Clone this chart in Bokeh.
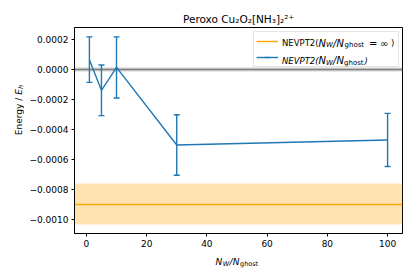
import math
from bokeh.plotting import figure
from bokeh.layouts import row, column
from bokeh.models import (ColumnDataSource, Range1d, FixedTicker, Whisker, TeeHead,
                          Legend, LegendItem, Label)
from bokeh.embed import file_html
from bokeh.resources import INLINE

# ---------------- data ----------------
nw_ratio = [1, 5, 10, 30, 100]
energy = [0.000065, -0.000140, 0.000013, -0.000505, -0.000471]
energy_err = [0.000152, 0.000169, 0.000204, 0.000202, 0.000177]
ref_energy = [-0.000899]        # NEVPT2(N_W/N_ghost = inf)
ref_err = [0.000134]
zero_energy = [0.0]
zero_err = [0.0000155]
x_ticks = [0, 20, 40, 60, 80, 100]
y_ticks = [-0.0010, -0.0008, -0.0006, -0.0004, -0.0002, 0.0, 0.0002]
y_tick_labels = ["\u22120.0010", "\u22120.0008", "\u22120.0006", "\u22120.0004",
                 "\u22120.0002", "0.0000", "0.0002"]
title_text = "Peroxo Cu\u2082O\u2082[NH\u2083]\u2082\u00b2\u207a"

FONT = "DejaVu Sans"
BLUE = "#1f77b4"
ORANGE = "#ffa500"

# ---------------- ranges (matplotlib-like 5% margins) ----------------
xmin, xmax = min(nw_ratio), max(nw_ratio)
xpad = 0.05 * (xmax - xmin)
lows = [e - s for e, s in zip(energy, energy_err)] + [ref_energy[0] - ref_err[0]]
highs = [e + s for e, s in zip(energy, energy_err)] + [ref_energy[0] + ref_err[0]]
ylo, yhi = min(lows), max(highs)
ypad = 0.05 * (yhi - ylo)

MAIN_W, MAIN_H = 50 + 328 + 8, 27 + 206 + 22
YL_W, XL_H = 24, 18
TOTAL_W = YL_W + MAIN_W

p = figure(width=MAIN_W, height=MAIN_H,
           x_range=Range1d(xmin - xpad, xmax + xpad),
           y_range=Range1d(ylo - ypad, yhi + ypad),
           output_backend="svg", toolbar_location=None,
           min_border_left=50, min_border_right=8,
           min_border_top=27, min_border_bottom=22,
           title=title_text)
p.extra_y_ranges = {"proxy": Range1d(start=1, end=2)}

p.title.text_font = FONT
p.title.text_font_size = "10.5px"
p.title.text_font_style = "normal"
p.title.text_color = "black"
p.title.align = "center"
p.title.standoff = 6

p.grid.visible = False
p.outline_line_color = "black"
p.outline_line_width = 1
p.outline_line_alpha = 1
p.background_fill_color = "white"
p.border_fill_color = "white"

for ax in p.axis:
    ax.axis_line_color = "black"
    ax.major_tick_out = 3
    ax.major_tick_in = 0
    ax.minor_tick_out = 0
    ax.minor_tick_in = 0
    ax.major_tick_line_color = "black"
    ax.major_label_text_font = FONT
    ax.major_label_text_font_size = "9px"
    ax.major_label_text_color = "black"
    ax.major_label_standoff = 3
    ax.axis_label = None

p.xaxis.ticker = FixedTicker(ticks=x_ticks)
p.yaxis.ticker = FixedTicker(ticks=y_ticks)
p.yaxis.major_label_overrides = dict(zip(y_ticks, y_tick_labels))

# ---------------- reference band / lines ----------------
ref_src = ColumnDataSource(dict(y=ref_energy,
                                y0=[r - e for r, e in zip(ref_energy, ref_err)],
                                y1=[r + e for r, e in zip(ref_energy, ref_err)]))
p.hstrip(y0="y0", y1="y1", source=ref_src, fill_color=ORANGE, fill_alpha=0.3, line_alpha=0)
r_ref = p.hspan(y="y", source=ref_src, line_color=ORANGE, line_width=1.4)

zero_src = ColumnDataSource(dict(y=zero_energy,
                                 y0=[r - e for r, e in zip(zero_energy, zero_err)],
                                 y1=[r + e for r, e in zip(zero_energy, zero_err)]))
p.hstrip(y0="y0", y1="y1", source=zero_src, fill_color="grey", fill_alpha=0.35, line_alpha=0)
p.hspan(y="y", source=zero_src, line_color="grey", line_width=1.5)

# ---------------- series with error bars ----------------
src = ColumnDataSource(dict(x=nw_ratio, y=energy,
                            upper=[e + s for e, s in zip(energy, energy_err)],
                            lower=[e - s for e, s in zip(energy, energy_err)]))
p.add_layout(Whisker(base="x", upper="upper", lower="lower", source=src,
                     line_color=BLUE, line_width=1.4, level="glyph",
                     upper_head=TeeHead(size=6, line_color=BLUE, line_width=1.4),
                     lower_head=TeeHead(size=6, line_color=BLUE, line_width=1.4)))
r_line = p.line(x="x", y="y", source=src, line_color=BLUE, line_width=1.4)
# legend-only proxy for the vertical error bar symbol (lies outside its own range)
r_stem = p.scatter(x="x", y="y", source=src, y_range_name="proxy", marker="dash",
                   angle=math.pi / 2, size=11, line_color=BLUE, line_width=1.4)

legend = Legend(items=[LegendItem(label=" ", renderers=[r_ref]),
                       LegendItem(label=" ", renderers=[r_line, r_stem])],
                location=(179, 166), padding=2, spacing=2, margin=0,
                glyph_width=22, glyph_height=14, label_height=14,
                label_width=113, label_standoff=5,
                border_line_color="#cccccc", border_line_width=1,
                background_fill_color="white", background_fill_alpha=0.0,
                label_text_font=FONT, label_text_font_size="9px")
p.add_layout(legend)


def strip(width, height):
    f = figure(width=width, height=height, min_border=0,
               min_border_left=0, min_border_right=0,
               min_border_top=0, min_border_bottom=0,
               x_axis_location=None, y_axis_location=None,
               output_backend="svg", toolbar_location=None)
    f.grid.visible = False
    f.outline_line_color = None
    f.background_fill_color = "white"
    f.border_fill_color = "white"
    return f


def piece(fig, text, x, y, size, style="normal", angle=0.0):
    fig.add_layout(Label(x=x, y=y, x_units="screen", y_units="screen", text=text,
                         text_font=FONT, text_font_size=f"{size}px",
                         text_font_style=style, text_color="black", level="overlay",
                         text_align="left", text_baseline="alphabetic", angle=angle))


# legend texts (inside main frame)
r1, r2 = 190.3, 172.6
piece(p, "NEVPT2(", 207.5, r1, 8.5)
piece(p, "N", 244, r1, 10, "italic")
piece(p, "W", 251.6, r1 - 2, 7, "italic")
piece(p, "/", 258.6, r1, 10, "italic")
piece(p, "N", 262, r1, 10, "italic")
piece(p, "ghost", 270, r1 - 2, 7)
piece(p, "=", 294.5, r1, 10)
piece(p, "\u221e", 305.5, r1, 10)
piece(p, ")", 316.5, r1, 8.5)

piece(p, "NEVPT2(", 207.5, r2, 8.5, "italic")
piece(p, "N", 244, r2, 10, "italic")
piece(p, "W", 251.6, r2 - 2, 7, "italic")
piece(p, "/", 258.6, r2, 10, "italic")
piece(p, "N", 262, r2, 10, "italic")
piece(p, "ghost", 269.5, r2 - 2, 7)
piece(p, ")", 290, r2, 8.5, "italic")

# y axis label strip  Energy / E_h  (rotated)
yl = strip(YL_W, MAIN_H)
yx, y0 = 18.3, MAIN_H - 156.7
piece(yl, "Energy / ", yx, y0, 9, "normal", math.pi / 2)
piece(yl, "E", yx, y0 + 40.4, 9, "italic", math.pi / 2)
piece(yl, "h", yx + 2, y0 + 46.1, 6.5, "italic", math.pi / 2)

# x axis label strip  N_W / N_ghost  (spans the full width)
xl = strip(TOTAL_W, XL_H)
xb = 11.5
piece(xl, "N", 215, xb, 9, "italic")
piece(xl, "W", 222.3, xb - 2, 6.5, "italic")
piece(xl, "/", 229, xb, 9, "italic")
piece(xl, "N", 232.3, xb, 9, "italic")
piece(xl, "ghost", 239.5, xb - 2, 6.5)

layout = column(row(yl, p), xl)
open("out.html", "w").write(file_html(layout, INLINE))
